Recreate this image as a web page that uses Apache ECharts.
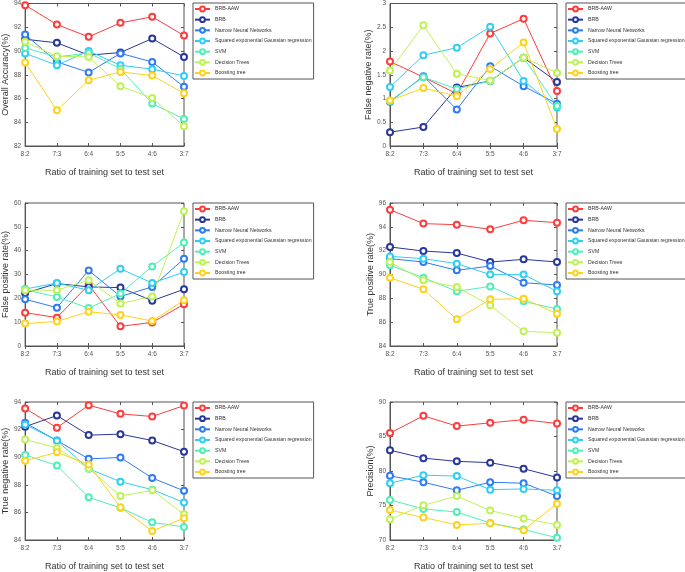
<!DOCTYPE html>
<html>
<head>
<meta charset="utf-8">
<script src="https://cdn.jsdelivr.net/npm/echarts@6/dist/echarts.min.js"></script>
<style>
  html, body { margin: 0; background: #fff; }
  #chart { width: 685px; height: 572px; }
</style>
</head>
<body>
<div id="chart"></div>
<script>
const ratios = ['8:2', '7:3', '6:4', '5:5', '4:6', '3:7'];
const methods = ['BRB-AAW', 'BRB', 'Narrow Neural Networks', 'Squared exponential Gaussian regression', 'SVM', 'Decision Trees', 'Boosting tree'];
const colors = ['#ff3b3b', '#27379a', '#2f7bf0', '#2fcff5', '#4fefb8', '#bff255', '#ffd21c'];

// one row per method, in the order of `methods`
const accuracy = [
  [93.86, 92.23, 91.19, 92.37, 92.88, 91.3],
  [90.99, 90.69, 89.65, 89.87, 91.05, 89.5],
  [91.4, 89.08, 88.2, 89.8, 89.08, 86.98],
  [89.8, 88.8, 90.0, 88.8, 88.47, 87.9],
  [90.26, 89.5, 89.84, 88.5, 85.57, 84.28],
  [90.77, 89.56, 89.5, 87.03, 86.05, 83.66],
  [89.03, 85.01, 87.54, 88.24, 87.93, 86.44]
];
const falseNegative = [
  [1.78, 1.45, 1.10, 2.37, 2.68, 1.16],
  [0.29, 0.40, 1.23, 1.37, 1.86, 1.35],
  [0.93, 1.47, 0.77, 1.68, 1.26, 0.89],
  [1.24, 1.91, 2.07, 2.51, 1.37, 0.81],
  [0.95, 1.45, 1.20, 1.37, 1.86, 0.84],
  [1.59, 2.54, 1.52, 1.38, 1.86, 1.54],
  [0.96, 1.22, 1.05, 1.62, 2.18, 0.36]
];
const falsePositive = [
  [14.0, 11.9, 25.7, 8.25, 9.9, 17.5],
  [22.2, 26.2, 24.8, 24.5, 19.0, 23.8],
  [19.6, 16.1, 31.7, 20.8, 24.8, 36.6],
  [23.9, 26.4, 23.4, 32.4, 26.4, 31.0],
  [23.6, 20.6, 15.9, 22.0, 33.4, 43.4],
  [23.4, 23.4, 27.6, 17.8, 20.8, 56.5],
  [9.4, 10.3, 14.4, 13.0, 10.5, 19.2]
];
const truePositive = [
  [95.44, 94.27, 94.18, 93.79, 94.55, 94.35],
  [92.31, 91.97, 91.8, 91.05, 91.27, 91.05],
  [91.33, 91.05, 90.35, 90.71, 89.31, 89.12],
  [91.52, 91.33, 90.91, 89.99, 89.99, 88.59],
  [90.77, 89.73, 88.59, 89.0, 87.75, 87.1],
  [91.05, 89.51, 88.95, 87.41, 85.23, 85.12],
  [89.73, 88.76, 86.24, 87.92, 87.97, 86.71]
];
const trueNegative = [
  [93.53, 92.14, 93.77, 93.14, 92.95, 93.74],
  [92.21, 93.02, 91.6, 91.67, 91.21, 90.4],
  [92.49, 91.21, 89.88, 89.98, 88.49, 87.56],
  [92.37, 91.2, 89.16, 88.23, 87.65, 86.72],
  [90.16, 89.4, 87.09, 86.33, 85.28, 84.95],
  [91.28, 90.67, 89.19, 87.19, 87.6, 85.86],
  [89.74, 90.35, 89.47, 86.37, 84.65, 85.58]
];
const precision = [
  [85.49, 88.0, 86.51, 86.98, 87.44, 86.88],
  [83.02, 81.86, 81.4, 81.21, 80.33, 79.07],
  [79.3, 78.37, 77.21, 78.37, 78.23, 76.37],
  [78.23, 79.4, 79.26, 77.3, 77.4, 77.21],
  [75.81, 74.51, 74.05, 72.47, 71.53, 70.33],
  [73.02, 75.02, 76.37, 74.28, 73.12, 72.19],
  [74.33, 73.26, 72.19, 72.42, 71.4, 75.26]
];

const panels = [
  { data: accuracy, title: 'Overall Accuracy(%)', min: 82, max: 94, interval: 2, left: 17, top: 3 },
  { data: falseNegative, title: 'False negative rate(%)', min: 0, max: 3, interval: 0.5, left: 390, top: 3 },
  { data: falsePositive, title: 'False positive rate(%)', min: 0, max: 60, interval: 10, left: 17, top: 203 },
  { data: truePositive, title: 'True positive rate(%)', min: 84, max: 96, interval: 2, left: 390, top: 203 },
  { data: trueNegative, title: 'True negative rate(%)', min: 84, max: 94, interval: 2, left: 17, top: 402 },
  { data: precision, title: 'Precision(%)', min: 70, max: 90, interval: 5, left: 390, top: 402 }
];

const font = 'Liberation Sans, Arial, sans-serif';
const axisColor = '#555';
const tick = { show: true, inside: true, length: 3, lineStyle: { color: axisColor } };

const grid = [], xAxis = [], yAxis = [], legend = [], series = [];
panels.forEach((p, i) => {
  grid.push({ left: p.left, top: p.top, width: 167, height: 143, show: true, borderColor: axisColor, borderWidth: 1 });
  xAxis.push({
    type: 'category', gridIndex: i, data: ratios, boundaryGap: false,
    name: 'Ratio of training set to test set', nameLocation: 'middle', nameGap: 22,
    nameTextStyle: { fontFamily: font, fontSize: 9, color: '#333' },
    axisLine: { lineStyle: { color: axisColor } },
    axisTick: tick,
    axisLabel: { fontFamily: font, fontSize: 6.5, color: '#555', margin: 5 },
    splitLine: { show: false }
  });
  yAxis.push({
    type: 'value', gridIndex: i, min: p.min, max: p.max, interval: p.interval,
    name: p.title, nameLocation: 'middle', nameGap: 14,
    nameTextStyle: { fontFamily: font, fontSize: 9, color: '#333' },
    axisLine: { show: true, lineStyle: { color: axisColor } },
    axisTick: tick,
    axisLabel: { fontFamily: font, fontSize: 6.5, color: '#555', margin: 4 },
    splitLine: { show: false }
  });
  legend.push({
    data: methods, orient: 'vertical', left: p.left + 176, top: p.top,
    padding: [2, 2, 2, 1], itemGap: 2.67,
    itemWidth: 15, itemHeight: 6,
    borderColor: axisColor, borderWidth: 1,
    textStyle: { fontFamily: font, fontSize: 5.2, lineHeight: 8, color: '#333' },
    selectedMode: false
  });
  p.data.forEach((vals, m) => {
    series.push({
      type: 'line', name: methods[m], xAxisIndex: i, yAxisIndex: i,
      data: vals, symbol: 'emptyCircle', symbolSize: 6,
      color: colors[m],
      lineStyle: { width: 1, color: colors[m] },
      itemStyle: { color: colors[m], borderWidth: 1 },
      animation: false
    });
  });
});
// mirrored axes on top and right, ticks only (box style)
panels.forEach((p, i) => {
  xAxis.push({
    type: 'category', gridIndex: i, data: ratios, boundaryGap: false, position: 'top',
    axisLine: { show: false }, axisTick: tick, axisLabel: { show: false }, splitLine: { show: false }
  });
  yAxis.push({
    type: 'value', gridIndex: i, min: p.min, max: p.max, interval: p.interval, position: 'right',
    axisLine: { show: false }, axisTick: tick, axisLabel: { show: false }, splitLine: { show: false }
  });
});

const chart = echarts.init(document.getElementById('chart'));
chart.setOption({ animation: false, grid, xAxis, yAxis, legend, series });
</script>
</body>
</html>
